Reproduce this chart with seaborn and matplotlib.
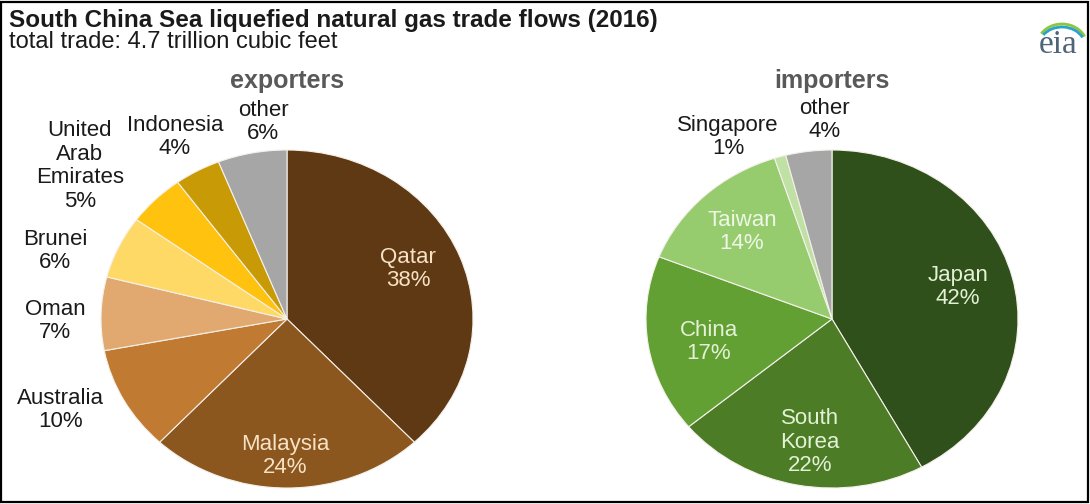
"""South China Sea LNG trade flows (2016) - exporters vs importers pies."""

import matplotlib
matplotlib.use("Agg")
import matplotlib.pyplot as plt
import matplotlib.patches as mpatches
import seaborn as sns

# data
exporters = ["Qatar", "Malaysia", "Australia", "Oman", "Brunei",
             "United\nArab\nEmirates", "Indonesia", "other"]
exporter_share = [38, 24, 10, 7, 6, 5, 4, 6]

importers = ["Japan", "South\nKorea", "China", "Taiwan", "Singapore", "other"]
importer_share = [42, 22, 17, 14, 1, 4]

title = "South China Sea liquefied natural gas trade flows (2016)"
subtitle = "total trade: 4.7 trillion cubic feet"

# styling
exp_colors = ["#5f3913", "#8b571f", "#c07a31", "#e1a96f", "#ffd965",
              "#ffc20e", "#c89b06", "#a6a6a6"]
imp_colors = ["#30501b", "#4c7c26", "#62a034", "#97cc6e", "#bfe1a3", "#a6a6a6"]
exp_text = ["#f7e2c6", "#f7e2c6", "#1a1a1a", "#1a1a1a", "#1a1a1a",
            "#1a1a1a", "#1a1a1a", "#1a1a1a"]
imp_text = ["#e3f2d5", "#e3f2d5", "#e3f2d5", "#eef7e6", "#1a1a1a", "#1a1a1a"]
# label centres in pie-normalised units (x: rx, y: ry)
exp_pos = [(0.651, 0.296), (-0.011, -0.811), (-1.220, -0.538), (-1.247, -0.012),
           (-1.247, 0.402), (-1.113, 0.905), (-0.602, 1.077), (-0.129, 1.166)]
imp_pos = [(0.677, 0.189), (-0.118, -0.728), (-0.661, -0.136), (-0.484, 0.515),
           (-0.559, 1.077), (-0.038, 1.178)]

sns.set_theme(style="white")
plt.rcParams["font.family"] = ["Liberation Sans", "DejaVu Sans"]

W, H = 1090, 504
fig = plt.figure(figsize=(W / 100, H / 100), dpi=100)
fig.patch.set_facecolor("white")


def px_axes(cx, cy, rx, ry):
    return fig.add_axes([(cx - rx) / W, (H - cy - ry) / H, 2 * rx / W, 2 * ry / H])


def draw_pie(ax, names, shares, colors, tcolors, positions, header):
    ax.pie(shares, colors=colors, startangle=90, counterclock=False,
           wedgeprops=dict(edgecolor="#f4f0ea", linewidth=0.8))
    ax.set_aspect("auto")
    ax.set_xlim(-1, 1)
    ax.set_ylim(-1, 1)
    ax.axis("off")
    for name, share, tc, (x, y) in zip(names, shares, tcolors, positions):
        ax.text(x, y, f"{name}\n{share}%", ha="center", va="center",
                fontsize=16, color=tc, linespacing=1.17, clip_on=False)
    ax.text(0, 1.41, header, ha="center", va="center", fontsize=18,
            fontweight="bold", color="#595959", clip_on=False)


ax1 = px_axes(287, 319, 186, 169)
draw_pie(ax1, exporters, exporter_share, exp_colors, exp_text, exp_pos, "exporters")
ax2 = px_axes(832, 319, 186, 169)
draw_pie(ax2, importers, importer_share, imp_colors, imp_text, imp_pos, "importers")

fig.text(9 / W, 1 - 21 / H, title, ha="left", va="center", fontsize=17.5,
         fontweight="bold", color="#1a1a1a")
fig.text(9 / W, 1 - 42 / H, subtitle, ha="left", va="center", fontsize=17,
         color="#1a1a1a")

# eia logo
fig.text(1058 / W, 1 - 45 / H, "eia", ha="center", va="center", fontsize=24,
         family="Liberation Serif", color="#4f6478")
for w, h, col in [(50, 44, "#8cc63f"), (46, 38, "#2aa3c9")]:
    fig.add_artist(mpatches.Arc((1062 / W, 1 - 46 / H), w / W, h / H, theta1=42,
                                theta2=128, color=col, lw=2,
                                transform=fig.transFigure))

fig.add_artist(mpatches.Rectangle((1 / W, 2 / H), (W - 3) / W, (H - 4) / H,
                                  fill=False, edgecolor="black", lw=1.6,
                                  transform=fig.transFigure))

fig.savefig("out.png", dpi=100)
plt.close(fig)
